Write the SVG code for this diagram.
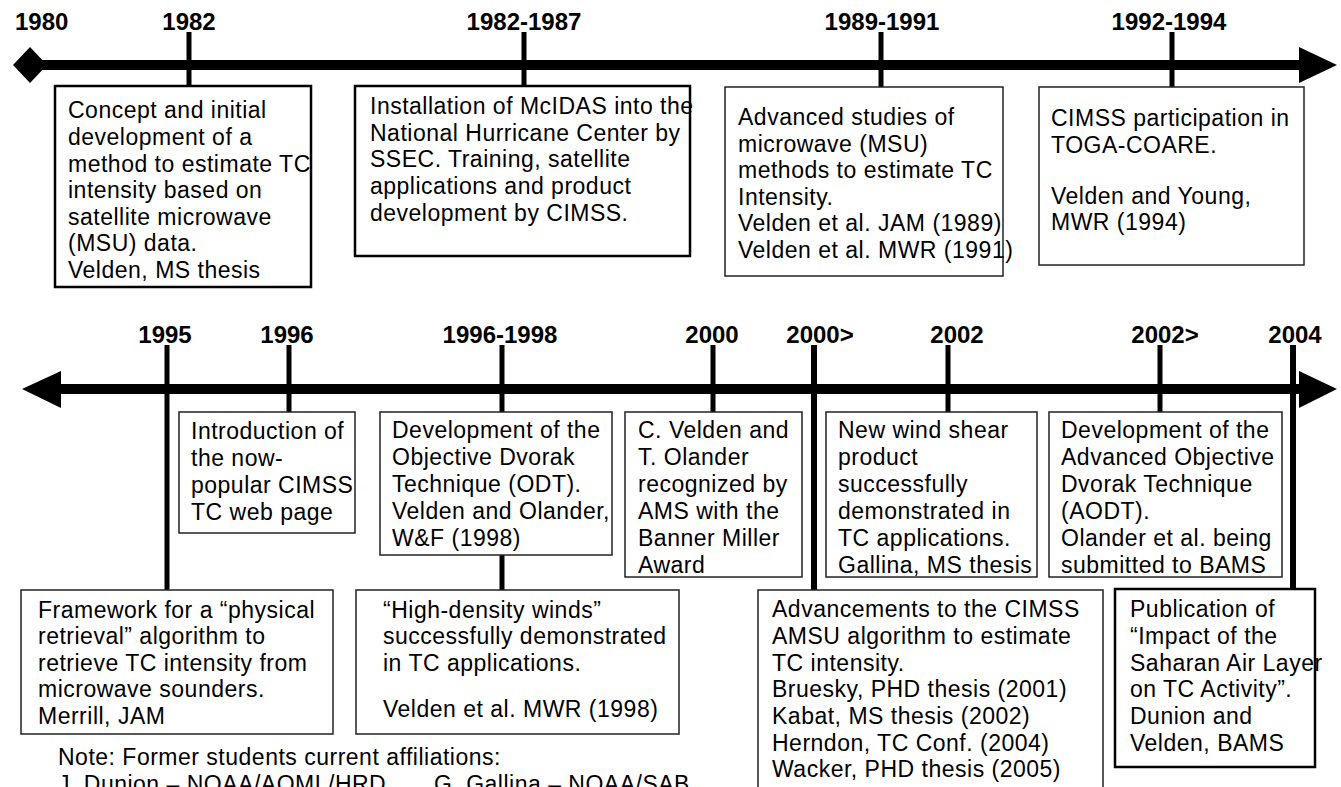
<svg xmlns="http://www.w3.org/2000/svg" width="1341" height="787" viewBox="0 0 1341 787">
  <style>
    .yr { font-family: "Liberation Sans", Arial, sans-serif; font-size: 24px; font-weight: bold; fill: #000; }
    .body { font-family: "Liberation Sans", Arial, sans-serif; font-size: 23px; letter-spacing: 0.5px; fill: #000; }
    .box { fill: #fff; stroke: #222; stroke-width: 1.5; }
    .box-thick { fill: #fff; stroke: #000; stroke-width: 2.5; }
    .axis { stroke: #000; stroke-width: 10; fill: none; }
    .tick { stroke: #000; stroke-width: 5; fill: none; }
    .tick-thick { stroke: #000; stroke-width: 6; fill: none; }
    .head { fill: #000; stroke: none; }
  </style>

  <rect x="0" y="0" width="1341" height="787" fill="#fff"/>

  <!-- timelines and tick connectors -->
  <g id="connectors">
    <!-- upper timeline 1980-1994 -->
    <line class="axis" x1="30" y1="65" x2="1302" y2="65"/>
    <polygon class="head" points="13,65 30,47 47,65 30,83"/>
    <polygon class="head" points="1299,47 1337,65 1299,83"/>
    <line class="tick" x1="189" y1="32" x2="189" y2="86"/>
    <line class="tick" x1="524" y1="32" x2="524" y2="86"/>
    <line class="tick" x1="881" y1="32" x2="881" y2="87"/>
    <line class="tick" x1="1172" y1="32" x2="1172" y2="87"/>

    <!-- lower timeline 1995-2004 -->
    <line class="axis" x1="58" y1="389" x2="1302" y2="389"/>
    <polygon class="head" points="22,389 61,371 61,408"/>
    <polygon class="head" points="1299,371 1337,389 1299,408"/>
    <line class="tick" x1="167" y1="345" x2="167" y2="590"/>
    <line class="tick" x1="289" y1="345" x2="289" y2="412"/>
    <line class="tick" x1="502" y1="345" x2="502" y2="412"/>
    <line class="tick" x1="502" y1="555" x2="502" y2="590"/>
    <line class="tick" x1="713" y1="345" x2="713" y2="412"/>
    <line class="tick-thick" x1="814" y1="345" x2="814" y2="590"/>
    <line class="tick" x1="948" y1="345" x2="948" y2="412"/>
    <line class="tick" x1="1160" y1="345" x2="1160" y2="412"/>
    <line class="tick-thick" x1="1293" y1="345" x2="1293" y2="589"/>
  </g>

  <!-- year labels -->
  <g id="labels">
    <text class="yr" x="15" y="30">1980</text>
    <text class="yr" x="189" y="30" text-anchor="middle">1982</text>
    <text class="yr" x="524" y="30" text-anchor="middle">1982-1987</text>
    <text class="yr" x="882" y="30" text-anchor="middle">1989-1991</text>
    <text class="yr" x="1169" y="30" text-anchor="middle">1992-1994</text>

    <text class="yr" x="165" y="343" text-anchor="middle">1995</text>
    <text class="yr" x="287" y="343" text-anchor="middle">1996</text>
    <text class="yr" x="500" y="343" text-anchor="middle">1996-1998</text>
    <text class="yr" x="712" y="343" text-anchor="middle">2000</text>
    <text class="yr" x="820" y="343" text-anchor="middle">2000&gt;</text>
    <text class="yr" x="957" y="343" text-anchor="middle">2002</text>
    <text class="yr" x="1165" y="343" text-anchor="middle">2002&gt;</text>
    <text class="yr" x="1295" y="343" text-anchor="middle">2004</text>
  </g>

  <g id="node-1982">
    <rect class="box-thick" x="55" y="86" width="256" height="201"/>
    <text class="body">
      <tspan x="68" y="118">Concept and initial</tspan>
      <tspan x="68" y="145">development of a</tspan>
      <tspan x="68" y="172">method to estimate TC</tspan>
      <tspan x="68" y="198">intensity based on</tspan>
      <tspan x="68" y="225">satellite microwave</tspan>
      <tspan x="68" y="251">(MSU) data.</tspan>
      <tspan x="68" y="278">Velden, MS thesis</tspan>
    </text>
  </g>

  <g id="node-1982-1987">
    <rect class="box-thick" x="355" y="86" width="335" height="170"/>
    <text class="body">
      <tspan x="370" y="114">Installation of McIDAS into the</tspan>
      <tspan x="370" y="141">National Hurricane Center by</tspan>
      <tspan x="370" y="167">SSEC. Training, satellite</tspan>
      <tspan x="370" y="194">applications and product</tspan>
      <tspan x="370" y="221">development by CIMSS.</tspan>
    </text>
  </g>

  <g id="node-1989-1991">
    <rect class="box" x="725" y="87" width="278" height="189"/>
    <text class="body">
      <tspan x="738" y="125">Advanced studies of</tspan>
      <tspan x="738" y="152">microwave (MSU)</tspan>
      <tspan x="738" y="178">methods to estimate TC</tspan>
      <tspan x="738" y="205">Intensity.</tspan>
      <tspan x="738" y="231">Velden et al. JAM (1989)</tspan>
      <tspan x="738" y="258">Velden et al. MWR (1991)</tspan>
    </text>
  </g>

  <g id="node-1992-1994">
    <rect class="box" x="1039" y="87" width="265" height="178"/>
    <text class="body">
      <tspan x="1051" y="126">CIMSS participation in</tspan>
      <tspan x="1051" y="153">TOGA-COARE.</tspan>
      <tspan x="1051" y="204">Velden and Young,</tspan>
      <tspan x="1051" y="230">MWR (1994)</tspan>
    </text>
  </g>

  <g id="node-1995">
    <rect class="box" x="21" y="590" width="312" height="144"/>
    <text class="body">
      <tspan x="38" y="618">Framework for a “physical</tspan>
      <tspan x="38" y="644">retrieval” algorithm to</tspan>
      <tspan x="38" y="671">retrieve TC intensity from</tspan>
      <tspan x="38" y="697">microwave sounders.</tspan>
      <tspan x="38" y="724">Merrill, JAM</tspan>
    </text>
  </g>

  <g id="node-1996">
    <rect class="box" x="179" y="412" width="176" height="121"/>
    <text class="body">
      <tspan x="191" y="439">Introduction of</tspan>
      <tspan x="191" y="466">the now-</tspan>
      <tspan x="191" y="493">popular CIMSS</tspan>
      <tspan x="191" y="520">TC web page</tspan>
    </text>
  </g>

  <g id="node-1996-1998-odt">
    <rect class="box" x="380" y="412" width="232" height="143"/>
    <text class="body">
      <tspan x="392" y="438">Development of the</tspan>
      <tspan x="392" y="465">Objective Dvorak</tspan>
      <tspan x="392" y="492">Technique (ODT).</tspan>
      <tspan x="392" y="519">Velden and Olander,</tspan>
      <tspan x="392" y="546">W&amp;F (1998)</tspan>
    </text>
  </g>

  <g id="node-1996-1998-winds">
    <rect class="box" x="356" y="590" width="323" height="144"/>
    <text class="body">
      <tspan x="383" y="618">“High-density winds”</tspan>
      <tspan x="383" y="644">successfully demonstrated</tspan>
      <tspan x="383" y="671">in TC applications.</tspan>
      <tspan x="383" y="717">Velden et al. MWR (1998)</tspan>
    </text>
  </g>

  <g id="node-2000">
    <rect class="box" x="625" y="412" width="177" height="165"/>
    <text class="body">
      <tspan x="638" y="438">C. Velden and</tspan>
      <tspan x="638" y="465">T. Olander</tspan>
      <tspan x="638" y="492">recognized by</tspan>
      <tspan x="638" y="519">AMS with the</tspan>
      <tspan x="638" y="546">Banner Miller</tspan>
      <tspan x="638" y="573">Award</tspan>
    </text>
  </g>

  <g id="node-2000-amsu">
    <rect class="box" x="758" y="590" width="345" height="220"/>
    <text class="body">
      <tspan x="772" y="617">Advancements to the CIMSS</tspan>
      <tspan x="772" y="644">AMSU algorithm to estimate</tspan>
      <tspan x="772" y="671">TC intensity.</tspan>
      <tspan x="772" y="697">Bruesky, PHD thesis (2001)</tspan>
      <tspan x="772" y="724">Kabat, MS thesis (2002)</tspan>
      <tspan x="772" y="751">Herndon, TC Conf. (2004)</tspan>
      <tspan x="772" y="777">Wacker, PHD thesis (2005)</tspan>
    </text>
  </g>

  <g id="node-2002">
    <rect class="box" x="826" y="412" width="211" height="165"/>
    <text class="body">
      <tspan x="838" y="438">New wind shear</tspan>
      <tspan x="838" y="465">product</tspan>
      <tspan x="838" y="492">successfully</tspan>
      <tspan x="838" y="519">demonstrated in</tspan>
      <tspan x="838" y="546">TC applications.</tspan>
      <tspan x="838" y="573">Gallina, MS thesis</tspan>
    </text>
  </g>

  <g id="node-2002-aodt">
    <rect class="box" x="1049" y="412" width="233" height="165"/>
    <text class="body">
      <tspan x="1061" y="438">Development of the</tspan>
      <tspan x="1061" y="465">Advanced Objective</tspan>
      <tspan x="1061" y="492">Dvorak Technique</tspan>
      <tspan x="1061" y="519">(AODT).</tspan>
      <tspan x="1061" y="546">Olander et al. being</tspan>
      <tspan x="1061" y="573">submitted to BAMS</tspan>
    </text>
  </g>

  <g id="node-2004">
    <rect class="box-thick" x="1115" y="589" width="200" height="178"/>
    <text class="body">
      <tspan x="1130" y="617">Publication of</tspan>
      <tspan x="1130" y="644">“Impact of the</tspan>
      <tspan x="1130" y="671">Saharan Air Layer</tspan>
      <tspan x="1130" y="697">on TC Activity”.</tspan>
      <tspan x="1130" y="724">Dunion and</tspan>
      <tspan x="1130" y="751">Velden, BAMS</tspan>
    </text>
  </g>

  <g id="note">
    <text class="body" x="58" y="765">Note: Former students current affiliations:</text>
    <text class="body" x="58" y="792">J. Dunion – NOAA/AOML/HRD</text>
    <text class="body" x="434" y="792">G. Gallina – NOAA/SAB</text>
  </g>
</svg>
